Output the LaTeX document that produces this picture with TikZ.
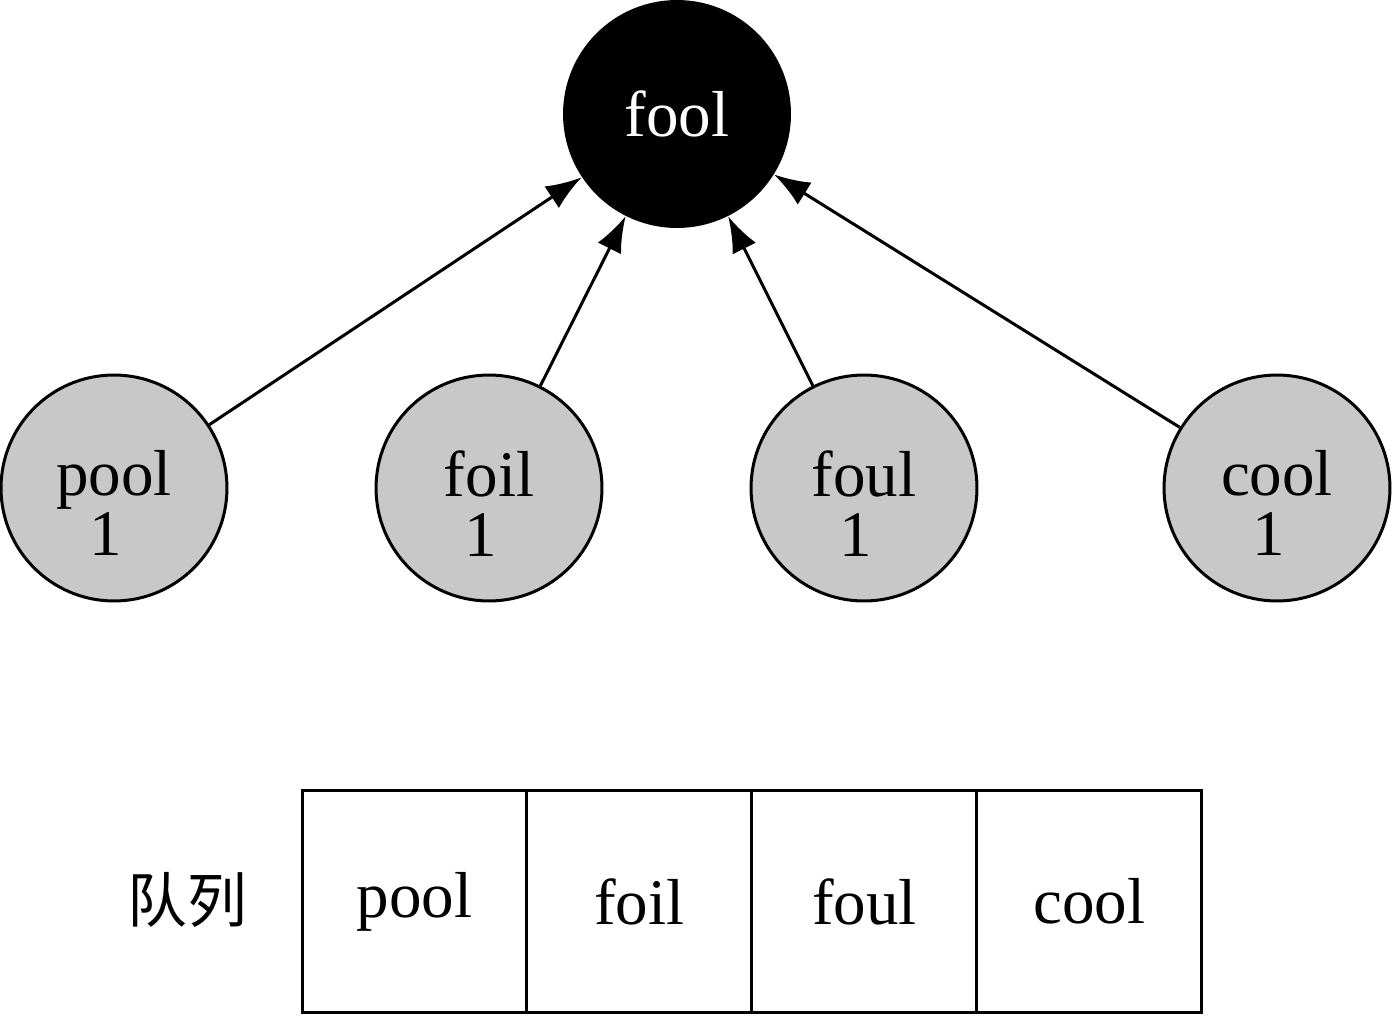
\documentclass[tikz,border=0pt]{standalone}
\usepackage{fontspec}
\setmainfont{Liberation Serif}
\newfontfamily\cjk{Noto Sans CJK SC}
\usetikzlibrary{arrows.meta,positioning}
\definecolor{nodegray}{HTML}{C8C8C8}
\newcommand{\wordcount}[2]{\raisebox{-13.5pt}[\height][\depth]{\begin{tabular}{@{}c@{}}#1\\#2\rule{0.25em}{0pt}\end{tabular}}}

\begin{document}
\begin{tikzpicture}[x=0.02cm,y=-0.02cm,>={Latex[length=0.72cm,width=0.52cm]}]
  \tikzstyle{word}=[circle,draw,line width=0.06cm,fill=nodegray,minimum size=4.52cm,inner sep=0pt,font=\fontsize{37}{32}\selectfont]
  \tikzstyle{cell}=[draw,line width=0.06cm,minimum width=4.5cm,minimum height=4.46cm,outer sep=0pt,font=\fontsize{37}{40}\selectfont]
  \useasboundingbox (0,0) rectangle (1392,1017);
  \node[circle,fill=black,minimum size=4.56cm,text=white,font=\fontsize{37}{40}\selectfont] (root) at (677,114) {fool};
  \node[word] (pool) at (114,488) {\wordcount{pool}{1}};
  \node[word] (foil) at (489,488) {\wordcount{foil}{1}};
  \node[word] (foul) at (864,488) {\wordcount{foul}{1}};
  \node[word] (cool) at (1277,488) {\wordcount{cool}{1}};
  \draw[line width=0.06cm,->] (pool) -- (root);
  \draw[line width=0.06cm,->] (foil) -- (root);
  \draw[line width=0.06cm,->] (foul) -- (root);
  \draw[line width=0.06cm,->] (cool) -- (root);
  % queue
  \node[cell] (q1) at (414.5,901.5) {pool};
  \node[cell,right=0pt of q1] (q2) {foil};
  \node[cell,right=0pt of q2] (q3) {foul};
  \node[cell,right=0pt of q3] (q4) {cool};
  \node[font=\cjk\fontsize{34}{40}\selectfont] (qlabel) at (187,900) {队列};
\end{tikzpicture}
\end{document}
